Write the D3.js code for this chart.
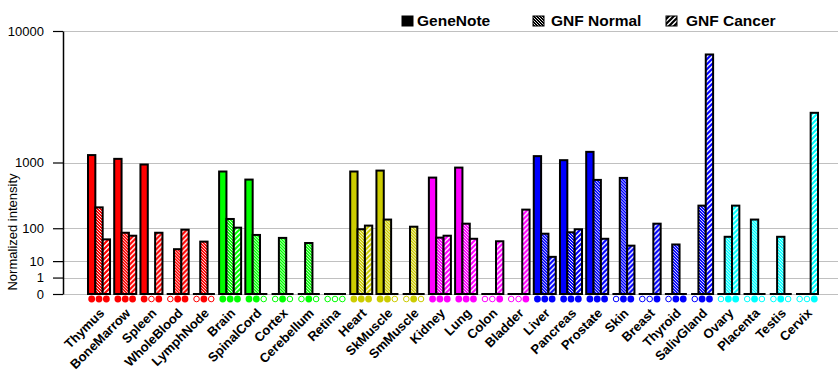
<!DOCTYPE html>
<html>
<head>
<meta charset="utf-8">
<script src="https://cdn.jsdelivr.net/npm/d3@7"></script>
<style>
  body { margin: 0; background: #fff; }
  svg { display: block; font-family: "Liberation Sans", Arial, sans-serif; }
</style>
</head>
<body>
<div id="chart"></div>
<script>
const tissues = ["Thymus", "BoneMarrow", "Spleen", "WholeBlood", "LymphNode",
    "Brain", "SpinalCord", "Cortex", "Cerebellum", "Retina",
    "Heart", "SkMuscle", "SmMuscle",
    "Kidney", "Lung", "Colon", "Bladder",
    "Liver", "Pancreas", "Prostate", "Skin", "Breast", "Thyroid", "SalivGland",
    "Ovary", "Placenta", "Testis", "Cervix"];

// colour group of each tissue
const groupColors = ["#ff0000", "#00ff00", "#cccc00", "#ff00ff", "#0000ff", "#00ffff"];
const tissueGroup = [0, 0, 0, 0, 0, 1, 1, 1, 1, 1, 2, 2, 2, 3, 3, 3, 3, 4, 4, 4, 4, 4, 4, 4, 5, 5, 5, 5];

const seriesNames = ["GeneNote", "GNF Normal", "GNF Cancer"];
const geneNote = [1200, 1095, 950, null, null, 790, 630, null, null, null, 790, 810, null,
    667, 877, null, null, 1170, 1060, 1295, null, null, null, null, null, null, null, null];
const gnfNormal = [250, 79, null, 28, 47, 155, 70, 59, 43, null, 95, 151, 108,
    60, 125, null, null, 75, 81, 624, 661, null, 39, 267, 63, 151, 63, null];
const gnfCancer = [54, 67, 79, 93, null, 103, null, null, null, null, 114, null, null,
    67, 56, 48, 229, 15, 95, 56, 36, 125, null, 7330, 267, null, null, 2900];

// detection calls under each bar (1 = filled, 0 = open)
const calls = ["111", "111", "101", "011", "010", "111", "110", "010", "010", "000",
    "111", "110", "010", "111", "111", "001", "001", "111", "111", "111",
    "011", "001", "011", "011", "011", "010", "010", "001"];

const yTicks = [0, 1, 10, 100, 1000, 10000];

const width = 840, height = 385;
const svg = d3.select("#chart").append("svg")
    .attr("width", width).attr("height", height);

const defs = svg.append("defs");
function hatchPatterns(id, color) {
    const pn = defs.append("pattern").attr("id", "norm-" + id)
        .attr("patternUnits", "userSpaceOnUse").attr("width", 3).attr("height", 3);
    pn.append("rect").attr("width", 3).attr("height", 3).attr("fill", color);
    pn.append("path").attr("d", "M-1,-1L4,4M-1,2L1,4M2,-1L4,1")
        .attr("stroke", "#fff").attr("stroke-width", 0.9);
    const pc = defs.append("pattern").attr("id", "canc-" + id)
        .attr("patternUnits", "userSpaceOnUse").attr("width", 5).attr("height", 5);
    pc.append("rect").attr("width", 5).attr("height", 5).attr("fill", "#fff");
    pc.append("path").attr("d", "M-1,6L6,-1M-1,1L1,-1M4,6L6,4")
        .attr("stroke", color).attr("stroke-width", 2.2);
}
groupColors.forEach((c, i) => hatchPatterns(i, c));
hatchPatterns("k", "#000");

const y = d3.scalePow().exponent(Math.log10(2))
    .domain([0, 10000]).range([294, 31]);

const x = d3.scaleBand().domain(tissues)
    .range([88, 818]).paddingInner(0.16).paddingOuter(0);
const sub = d3.scaleBand().domain([0, 1, 2]).range([0, x.bandwidth()]);

const plotLeft = 63, plotRight = 838;

// gridlines
svg.append("g").selectAll("line").data(yTicks).join("line")
    .attr("x1", plotLeft).attr("x2", plotRight)
    .attr("y1", d => Math.round(y(d)) + 0.5).attr("y2", d => Math.round(y(d)) + 0.5)
    .attr("stroke", "#c0c0c0").attr("stroke-width", 1);

// y axis
const yAxis = svg.append("g").attr("transform", `translate(${plotLeft},0)`)
    .call(d3.axisLeft(y).tickValues(yTicks).tickSize(10).tickSizeOuter(0).tickFormat(d3.format("d")));
yAxis.select(".domain").attr("stroke", "#000").attr("stroke-width", 1.5);
yAxis.selectAll(".tick line").attr("stroke", "#000").attr("stroke-width", 1.2);
yAxis.selectAll(".tick text").attr("x", -19).attr("font-size", 13)
    .attr("font-family", "'Liberation Sans', Arial, sans-serif").attr("fill", "#000");

svg.append("text")
    .attr("transform", "translate(17,232) rotate(-90)")
    .attr("text-anchor", "middle").attr("font-size", 13)
    .text("Normalized intensity");

// bars
const series = [geneNote, gnfNormal, gnfCancer];
const groups = svg.append("g").selectAll("g").data(tissues).join("g")
    .attr("transform", d => `translate(${x(d)},0)`);

groups.each(function (t, i) {
    const g = d3.select(this);
    const gi = tissueGroup[i];
    const color = groupColors[gi];
    series.forEach((s, k) => {
        const v = s[i];
        if (v == null) return;
        const fill = k === 0 ? color : (k === 1 ? `url(#norm-${gi})` : `url(#canc-${gi})`);
        g.append("rect")
            .attr("x", sub(k)).attr("width", sub.bandwidth())
            .attr("y", y(v)).attr("height", y(0) - y(v))
            .attr("fill", fill).attr("stroke", "#000").attr("stroke-width", 2);
    });
    g.append("line").attr("x1", 0).attr("x2", x.bandwidth())
        .attr("y1", y(0)).attr("y2", y(0))
        .attr("stroke", "#000").attr("stroke-width", 2);
    calls[i].split("").forEach((c, k) => {
        g.append("circle")
            .attr("cx", sub(k) + sub.bandwidth() / 2).attr("cy", 299)
            .attr("r", c === "1" ? 3.4 : 2.8)
            .attr("fill", c === "1" ? color : "#fff")
            .attr("stroke", color).attr("stroke-width", c === "1" ? 0 : 1);
    });
});

// x labels
svg.append("g").selectAll("text").data(tissues).join("text")
    .attr("transform", d => `translate(${x(d) + x.bandwidth() / 2 + 6},314) rotate(-45)`)
    .attr("text-anchor", "end").attr("font-size", 13).attr("font-weight", "bold")
    .text(d => d);

// legend
const legendItems = [
    { name: seriesNames[0], fill: "#000", x: 402, tx: 417 },
    { name: seriesNames[1], fill: "url(#norm-k)", x: 533, tx: 551 },
    { name: seriesNames[2], fill: "url(#canc-k)", x: 666, tx: 686 }
];
const legend = svg.append("g");
legend.selectAll("rect").data(legendItems).join("rect")
    .attr("x", d => d.x).attr("y", 16).attr("width", 11).attr("height", 10)
    .attr("fill", d => d.fill).attr("stroke", "#000").attr("stroke-width", 1);
legend.selectAll("text").data(legendItems).join("text")
    .attr("x", d => d.tx).attr("y", 26)
    .attr("font-size", 15.5).attr("font-weight", "bold")
    .text(d => d.name);
</script>
</body>
</html>
